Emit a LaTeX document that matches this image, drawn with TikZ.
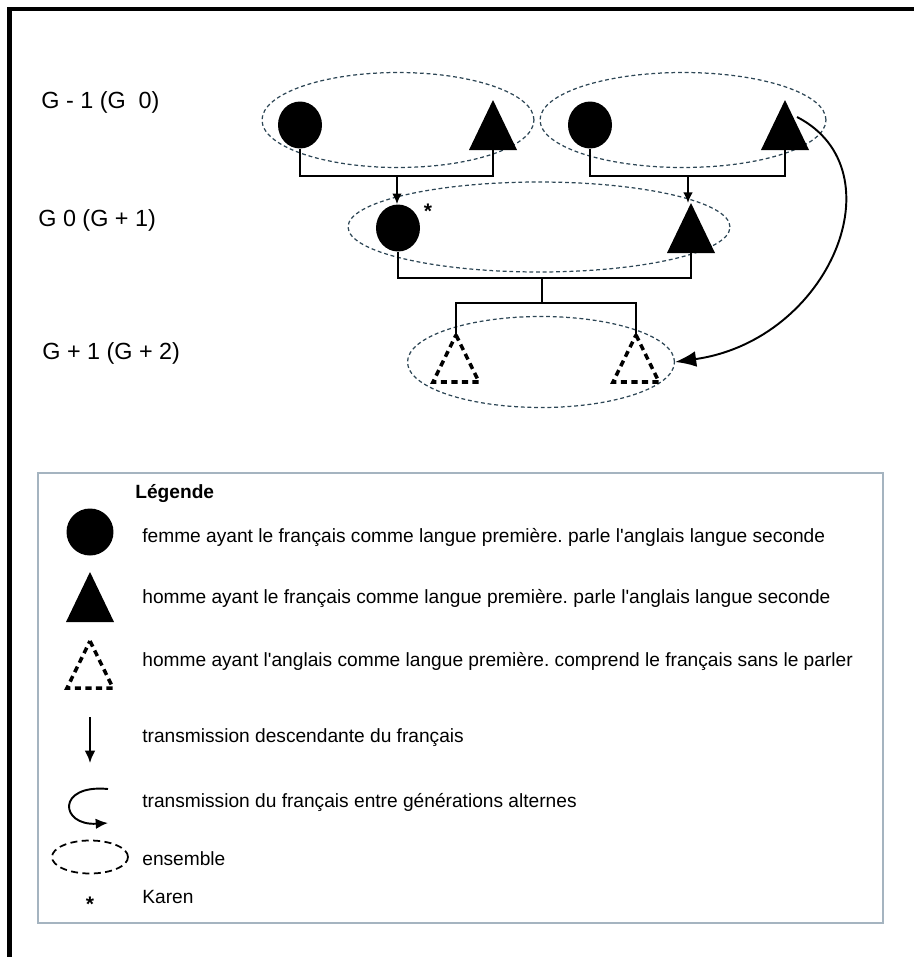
\documentclass[tikz,border=0pt]{standalone}
\usepackage{fontspec}
\setmainfont{Liberation Sans}
\usetikzlibrary{shapes.geometric, arrows.meta}
\definecolor{ensdash}{RGB}{45,70,85}
\definecolor{cadre}{RGB}{165,180,192}
\frenchspacing

\begin{document}
\begin{tikzpicture}[x=0.02cm, y=-0.02cm,
  femme/.style={ellipse, fill=black, inner sep=0pt, minimum width=0.88cm, minimum height=0.94cm},
  ensemble/.style={ellipse, draw=ensdash, line width=0.7pt, dash pattern=on 2.2pt off 1.6pt, inner sep=0pt},
  lien/.style={line width=1.1pt},
  desc/.style={lien, -{Latex[length=6pt, width=5.5pt]}},
  gen/.style={anchor=west, inner sep=0pt, font=\fontsize{13.3}{15}\selectfont},
  legtxt/.style={anchor=base west, inner sep=0pt, font=\fontsize{10.9}{13}\selectfont},
  etoile/.style={inner sep=0pt, font=\bfseries\fontsize{12}{12}\selectfont},
  homme/.pic={\fill (0,-25) -- (24,25) -- (-24,25) -- cycle;
    \coordinate (-top) at (0,-25); \coordinate (-base) at (0,25); \coordinate (-side) at (12,-8);},
  anglo/.pic={\draw[line width=2pt, dash pattern=on 3.5pt off 2.5pt] (0,-23) -- (23,24) -- (-23,24) -- cycle;
    \coordinate (-top) at (0,-23);}
]
\useasboundingbox (0,0) rectangle (914,957);
\draw[line width=2.6pt] (9.5,957) -- (9.5,9) -- (914,9);

% generations
\node[gen] (g1) at (41,102) {G - 1 (G\ \ 0)};
\node[gen] (g2) at (38,220) {G 0 (G + 1)};
\node[gen] (g3) at (42,353) {G + 1 (G + 2)};

% ensembles
\node[ensemble, minimum width=5.44cm, minimum height=1.9cm] (ens1) at (398,120) {};
\node[ensemble, minimum width=5.72cm, minimum height=1.9cm] (ens2) at (683,120) {};
\node[ensemble, minimum width=7.64cm, minimum height=1.8cm] (ens3) at (539,227) {};
\node[ensemble, minimum width=5.34cm, minimum height=1.82cm] (ens4) at (541,362) {};

% G-1
\node[femme] (f1) at (300,125) {};
\pic (h1) at (493,125) {homme};
\node[femme] (f2) at (590,125) {};
\pic (h2) at (785,125) {homme};
% G0
\node[femme] (f3) at (398,228) {};
\node[etoile] (karen) at (428,211) {*};
\pic (h3) at (691,228) {homme};
% G+1
\pic (a1) at (456,358) {anglo};
\pic (a2) at (636,358) {anglo};

\coordinate (j1) at (397,176);
\coordinate (j2) at (688,176);
\coordinate (j3) at (542,278);
\coordinate (j4) at (542,303);

\draw[lien] (f1.south) |- (j1) -| (h1-base);
\draw[desc] (j1) -- (j1 |- f3.north);
\draw[lien] (f2.south) |- (j2) -| (h2-base);
\draw[desc] (j2) -- (j2 |- h3-top);
\draw[lien] (f3.south) |- (j3) -| (h3-base);
\draw[lien] (j3) -- (j4);
\draw[lien] (a1-top) |- (j4) -| (a2-top);
\draw[lien, -{Latex[length=12pt, width=9pt]}] (h2-side) .. controls (900,170) and (830,340) .. (ens4.east);

% legende
\draw[cadre, line width=1.3pt] (38,473) rectangle (883,923);
\node[legtxt, font=\bfseries\fontsize{10.9}{13}\selectfont] (titre) at (135,498) {Légende};
\node[femme, minimum width=0.94cm, minimum height=0.94cm] (lf) at (90,532) {};
\node[legtxt] (tf) at (142,542) {femme ayant le français comme langue première. parle l\textquotesingle anglais langue seconde};
\pic (lh) at (90,597) {homme};
\node[legtxt] (th) at (142,603) {homme ayant le français comme langue première. parle l\textquotesingle anglais langue seconde};
\pic (la) at (90,664) {anglo};
\node[legtxt] (ta) at (142,666) {homme ayant l\textquotesingle anglais comme langue première. comprend le français sans le parler};
\coordinate (ld1) at (90,717);
\coordinate (ld2) at (90,763);
\draw[lien, -{Latex[length=7pt, width=6pt]}] (ld1) -- (ld2);
\node[legtxt] (td) at (142,742) {transmission descendante du français};
\coordinate (lc1) at (108,789);
\coordinate (lc2) at (108,823);
\draw[lien, -{Latex[length=7pt, width=6pt]}] (lc1) .. controls (56,784) and (60,826) .. (lc2);
\node[legtxt] (tc) at (142,807) {transmission du français entre générations alternes};
\node[ellipse, draw, line width=1pt, dash pattern=on 4pt off 2.5pt, inner sep=0pt,
  minimum width=1.52cm, minimum height=0.66cm] (le) at (90,857) {};
\node[legtxt] (te) at (142,865) {ensemble};
\node[etoile] (lk) at (90,904) {*};
\node[legtxt] (tk) at (142,903) {Karen};
\end{tikzpicture}
\end{document}
